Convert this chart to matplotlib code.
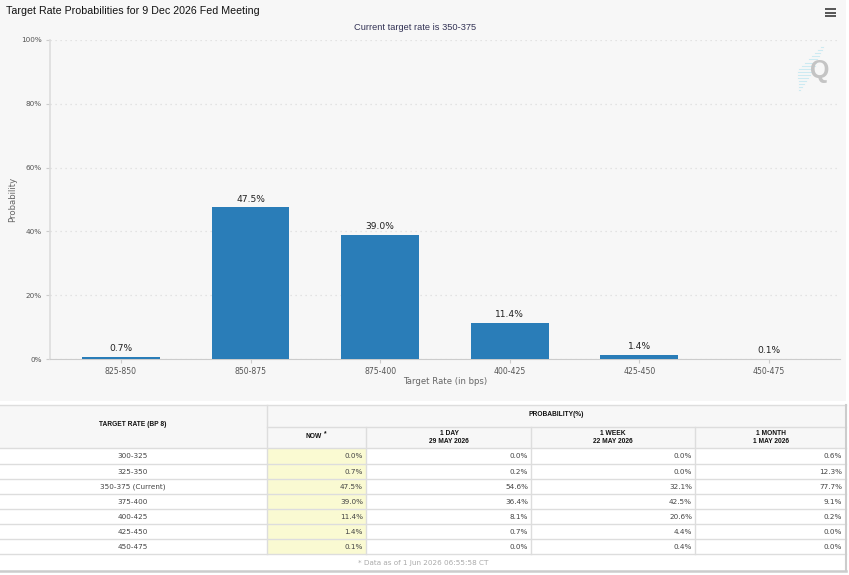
import matplotlib
matplotlib.use('Agg')
import matplotlib.pyplot as plt

W, H = 849, 575

# chart data
categories = ['825-850', '850-875', '875-400', '400-425', '425-450', '450-475']
probs = [0.7, 47.5, 39.0, 11.4, 1.4, 0.1]
y_ticks = [0, 20, 40, 60, 80, 100]

# table data
rates = ['300-325', '325-350', '350-375 (Current)', '375-400', '400-425', '425-450', '450-475']
now = ['0.0%', '0.7%', '47.5%', '39.0%', '11.4%', '1.4%', '0.1%']
day1 = ['0.0%', '0.2%', '54.6%', '36.4%', '8.1%', '0.7%', '0.0%']
week1 = ['0.0%', '0.0%', '32.1%', '42.5%', '20.6%', '4.4%', '0.4%']
month1 = ['0.6%', '12.3%', '77.7%', '9.1%', '0.2%', '0.0%', '0.0%']

plt.rcParams['font.family'] = ['DejaVu Sans']

fig = plt.figure(figsize=(W / 100, H / 100), dpi=100, facecolor='white')

# page overlay in pixel coords, for panels and the table
page = fig.add_axes([0, 0, 1, 1], zorder=0)
page.set_xlim(0, W)
page.set_ylim(H, 0)
page.axis('off')
page.fill_between([0, 846], 0, 401, color='#f7f7f7', lw=0)

# chart
left, right, top, bottom = 50, 840, 40, 359
ax = fig.add_axes([left / W, 1 - bottom / H, (right - left) / W, (bottom - top) / H], zorder=1)
ax.patch.set_alpha(0)
ax.bar(range(len(probs)), probs, width=0.6, color='#2a7db8', zorder=3)
for i, p in enumerate(probs):
    ax.annotate(f'{p}%', (i, p), xytext=(0, 2.5), textcoords='offset points', ha='center', va='bottom',
                fontsize=6.6, color='#222222')
ax.set_xlim(-0.548, 5.55)
ax.set_ylim(0, 100)
ax.set_yticks(y_ticks)
ax.set_yticklabels([f'{t}%' for t in y_ticks], fontsize=5.2, color='#555555')
ax.set_xticks(range(len(categories)))
ax.set_xticklabels(categories, fontsize=5.6, color='#555555')
ax.tick_params(axis='x', length=3, color='#cccccc', pad=3)
ax.tick_params(axis='y', length=3, color='#cccccc', pad=3)
ax.grid(axis='y', color='#dddddd', linestyle=(0, (1, 3)), linewidth=0.9)
ax.set_axisbelow(True)
for s in ['top', 'right']:
    ax.spines[s].set_visible(False)
ax.spines['left'].set_color('#dddddd')
ax.spines['left'].set_linewidth(1.2)
ax.spines['bottom'].set_color('#cccccc')

page.text(13, 199, 'Probability', fontsize=6.1, color='#666666', rotation=90, ha='center', va='center')
page.text(445.5, 382, 'Target Rate (in bps)', fontsize=6.1, color='#666666', ha='center', va='center')

page.text(6, 11, 'Target Rate Probabilities for 9 Dec 2026 Fed Meeting', fontsize=7.65,
          family='Liberation Sans', color='#111111', va='center')
page.text(415, 27, 'Current target rate is 350-375', fontsize=6.7, family='Liberation Sans',
          color='#333355', ha='center', va='center')

# menu icon
for y in [9, 12.5, 16]:
    page.plot([825.5, 836.5], [y, y], color='#555555', lw=1.4, solid_capstyle='butt')

# watermark streak
for k in range(15):
    y = 47 + k * 3.1
    if y < 70:
        x0, x1 = 821 - (y - 47) * 1.0, 823 - (y - 47) * 0.45
    else:
        x0, x1 = 798 + (70 - y) * -0.05, 813 - (y - 70) * 0.65
    page.plot([x0, x1], [y, y], color='#cdeaf2', lw=0.8, zorder=1)
page.text(820, 71, 'Q', fontsize=18, fontweight='bold', family='Liberation Sans', color='#c4c4c4',
          ha='center', va='center', zorder=2)

# table
cols = [0, 267, 366, 531, 695, 846]
head_top, head_mid, head_bot = 405, 427, 448
row_lines = [463.5, 478.5, 493.5, 508.5, 523.5, 539, 554]
line_c = '#dddddd'
page.fill_between([0, 846], head_top, head_bot, color='#f7f7f7', lw=0)
page.fill_between([cols[1], cols[2]], head_bot, row_lines[-1], color='#fafad2', lw=0)

page.plot([0, 846], [head_top, head_top], color=line_c, lw=1)
page.plot([cols[1], 846], [head_mid, head_mid], color=line_c, lw=1)
page.plot([0, 846], [head_bot, head_bot], color=line_c, lw=1)
for y in row_lines:
    page.plot([0, 846], [y, y], color=line_c, lw=1)
page.plot([cols[1], cols[1]], [head_top, row_lines[-1]], color=line_c, lw=1)
for x in cols[2:5]:
    page.plot([x, x], [head_mid, row_lines[-1]], color=line_c, lw=1)
page.plot([846, 846], [head_top, 571], color='#cccccc', lw=1.5)
page.plot([0, 846], [571, 571], color='#cccccc', lw=1.8)

hs = dict(fontsize=4.8, fontweight='bold', family='Liberation Sans', color='#111111', ha='center', va='center')
page.text(133, 425, 'TARGET RATE (BP 8)', **hs)
page.text(556, 414.5, 'PROBABILITY(%)', **hs)
page.text(314, 436.5, 'NOW', **hs)
page.text(325.5, 434, '*', **hs)
page.text(449, 437.5, '1 DAY\n29 MAY 2026', linespacing=1.2, **hs)
page.text(613, 437.5, '1 WEEK\n22 MAY 2026', linespacing=1.2, **hs)
page.text(771, 437.5, '1 MONTH\n1 MAY 2026', linespacing=1.2, **hs)

cs = dict(fontsize=5.2, color='#444444', va='center')
for i in range(len(rates)):
    y = 456.5 + i * 15.1
    page.text(133, y, rates[i], ha='center', **cs)
    page.text(363, y, now[i], ha='right', **cs)
    page.text(528, y, day1[i], ha='right', **cs)
    page.text(692, y, week1[i], ha='right', **cs)
    page.text(842, y, month1[i], ha='right', **cs)

page.text(423, 562.5, '* Data as of 1 Jun 2026 06:55:58 CT', fontsize=5.2, color='#aaaaaa', ha='center', va='center')

fig.savefig('out.png', dpi=100, facecolor='white')
